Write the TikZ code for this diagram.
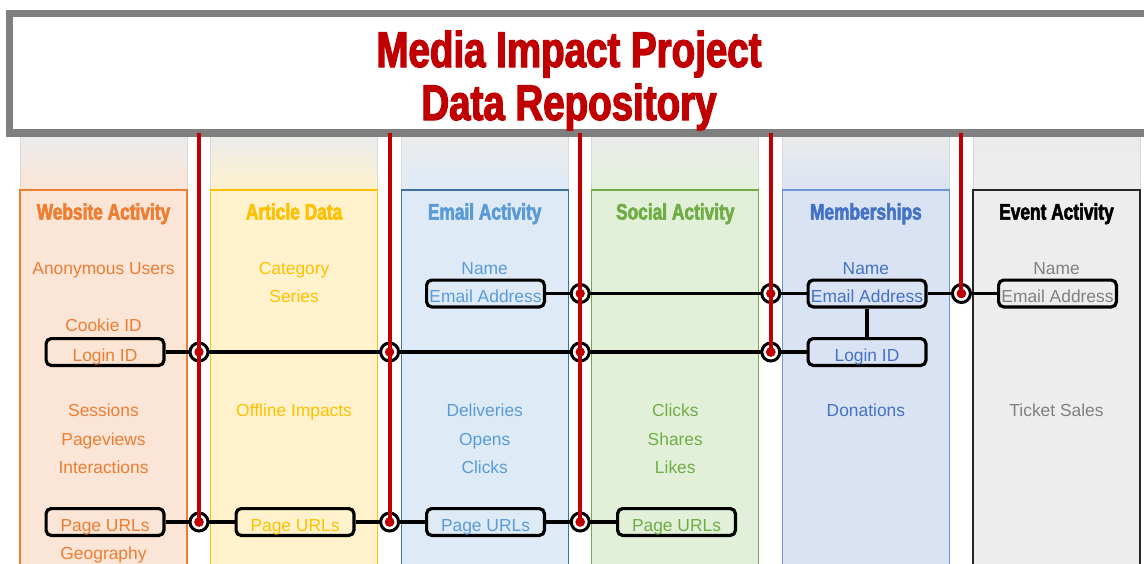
\documentclass[tikz,border=0pt]{standalone}
\usepackage{fontspec}
\setmainfont{Liberation Sans}
\newfontfamily\impactfont[FakeStretch=0.77,FakeBold=2.5]{Liberation Sans Bold}
\definecolor{FrameClr}{HTML}{7F7F7F}
\definecolor{LinkClr}{HTML}{C00000}
\definecolor{HeadTopClr}{HTML}{EBEBEB}
\definecolor{HeadEdgeClr}{HTML}{D9D9D9}
\definecolor{WebClr}{HTML}{ED7D31}
\definecolor{WebFillClr}{HTML}{FBE5D6}
\definecolor{ArtClr}{HTML}{FFC000}
\definecolor{ArtFillClr}{HTML}{FFF2CC}
\definecolor{MailClr}{HTML}{5B9BD5}
\definecolor{MailEdgeClr}{HTML}{41719C}
\definecolor{MailFillClr}{HTML}{DEEBF7}
\definecolor{SocClr}{HTML}{70AD47}
\definecolor{SocFillClr}{HTML}{E2F0D9}
\definecolor{MemClr}{HTML}{4472C4}
\definecolor{MemEdgeClr}{HTML}{6F94D6}
\definecolor{MemFillClr}{HTML}{DAE3F3}
\definecolor{EvtClr}{HTML}{808080}
\definecolor{EvtEdgeClr}{HTML}{262626}
\definecolor{EvtFillClr}{HTML}{EDEDED}

\tikzset{
  titletxt/.style={inner sep=0pt,text height=36pt,text depth=0pt,text=LinkClr,font=\impactfont\fontsize{50}{55}\selectfont},
  headtxt/.style={inner sep=0pt,text height=16.1pt,text depth=0pt,font=\impactfont\fontsize{22.5}{25}\selectfont},
  item/.style={inner sep=0pt,text height=12.5pt,text depth=0pt,font=\fontsize{17.4}{20}\selectfont},
  keybox/.style={item,draw=black,line width=3.2pt,rounded corners=5pt,minimum width=117.8pt,minimum height=26.8pt,text height=18.5pt},
  wire/.style={black,line width=3.2pt},
  link/.style={LinkClr,line width=4pt},
  joint/.style={circle,draw=black,fill=white,line width=3pt,minimum size=18pt,inner sep=0pt,
    path picture={\fill[LinkClr] (path picture bounding box.center) circle (4.7pt);}}
}

\begin{document}
\begin{tikzpicture}[x=1pt,y=-1pt]
\useasboundingbox (0,0) rectangle (1144,563);

\draw[FrameClr,line width=7.5pt,fill=white] (9.5,13.5) rectangle (1170,133);
\node[titletxt] (title1) at (569,49) {Media Impact Project};
\node[titletxt] (title2) at (569,102) {Data Repository};

\foreach \Fill/\Edge/\Head/\Name [count=\i] in {WebFillClr/WebClr/WebClr/Website Activity,
    ArtFillClr/ArtClr/ArtClr/Article Data,MailFillClr/MailEdgeClr/MailClr/Email Activity,
    SocFillClr/SocClr/SocClr/Social Activity,MemFillClr/MemEdgeClr/MemClr/Memberships,
    EvtFillClr/EvtEdgeClr/black/Event Activity}{
  \pgfmathsetmacro\xl{20+190.6*(\i-1)}
  \shade[top color=HeadTopClr,bottom color=\Fill] (\xl,137) rectangle ++(167,53);
  \draw[HeadEdgeClr,line width=0.8pt] (\xl,137) -- ++(0,53) ++(167,0) -- ++(0,-53);
  \draw[draw=\Edge,fill=\Fill,line width=1.2pt] (\xl,190) rectangle ++(167,390);
  \node[headtxt,text=\Head] (head\i) at (\xl+83.5,211.5) {\Name};
}

\foreach \t/\y [count=\k] in {Anonymous Users/268,Cookie ID/325,Sessions/410.5,Pageviews/439,Interactions/467.5,Geography/553}
  \node[item,text=WebClr] (web\k) at (103.5,\y) {\t};
\foreach \t/\y [count=\k] in {Category/268,Series/296.5,Offline Impacts/410.5}
  \node[item,text=ArtClr] (art\k) at (294.1,\y) {\t};
\foreach \t/\y [count=\k] in {Name/268,Deliveries/410.5,Opens/439,Clicks/467.5}
  \node[item,text=MailClr] (mailitem\k) at (484.7,\y) {\t};
\foreach \t/\y [count=\k] in {Clicks/410.5,Shares/439,Likes/467.5}
  \node[item,text=SocClr] (soc\k) at (675.3,\y) {\t};
\foreach \t/\y [count=\k] in {Name/268,Donations/410.5}
  \node[item,text=MemClr] (mem\k) at (865.9,\y) {\t};
\foreach \t/\y [count=\k] in {Name/268,Ticket Sales/410.5}
  \node[item,text=EvtClr] (evt\k) at (1056.5,\y) {\t};

\node[keybox,text=WebClr] (login1) at (105,352) {Login ID};
\node[keybox,text=WebClr] (page1) at (105,522) {Page URLs};
\node[keybox,text=ArtClr] (page2) at (295,522) {Page URLs};
\node[keybox,text=MailClr] (mail3) at (485.5,293.5) {Email Address};
\node[keybox,text=MailClr] (page3) at (485.5,522) {Page URLs};
\node[keybox,text=SocClr] (page4) at (676.5,522) {Page URLs};
\node[keybox,text=MemClr] (mail5) at (867,293.5) {Email Address};
\node[keybox,text=MemClr] (login5) at (867,352) {Login ID};
\node[keybox,text=EvtClr] (mail6) at (1057.5,293.5) {Email Address};

\draw[wire] (login1) -- (login5);
\draw[wire] (page1) -- (page2) (page2) -- (page3) (page3) -- (page4);
\draw[wire] (mail3) -- (mail5) (mail5) -- (mail6) (mail5) -- (login5);

\foreach \row/\y/\list in {mail/293.5/{3,4,5},login/352/{1,2,3,4},page/522/{1,2,3}}
  \foreach \i in \list
    \node[joint] (j\row\i) at ({199+190.6*(\i-1)},\y) {};

\foreach \i/\row in {1/page,2/page,3/page,4/login,5/mail}{
  \coordinate (top\i) at ({199+190.6*(\i-1)},133);
  \draw[link] (top\i) -- (j\row\i.center);
  \fill[LinkClr] (j\row\i.center) circle (4.7pt);
}

\end{tikzpicture}
\end{document}
